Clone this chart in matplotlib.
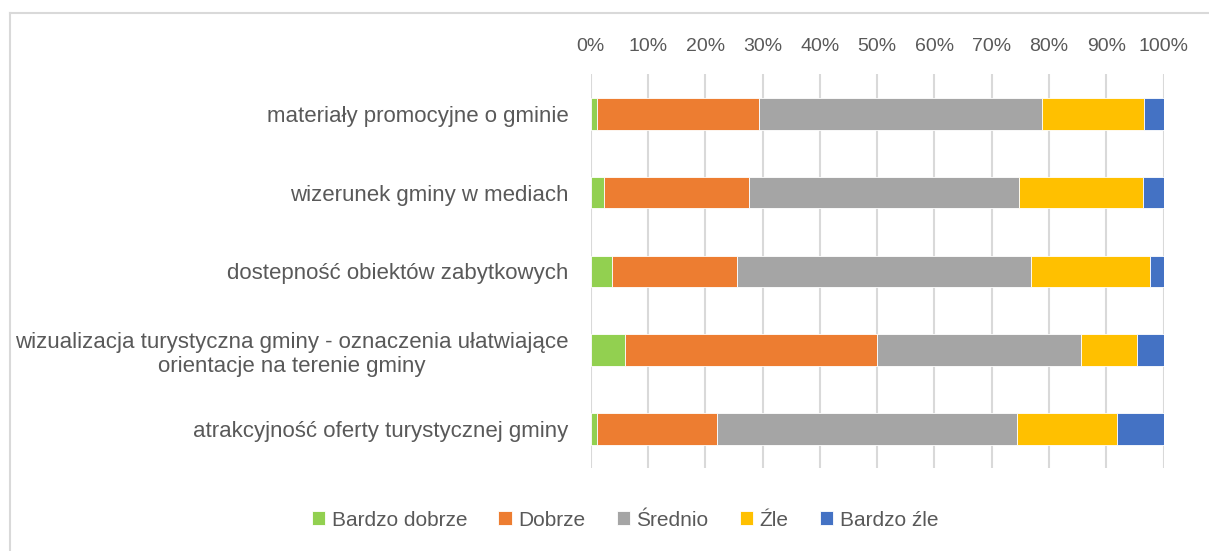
import matplotlib
matplotlib.use("Agg")
import matplotlib.pyplot as plt
from matplotlib.lines import Line2D
from matplotlib.ticker import FuncFormatter

plt.rcParams['font.family'] = ['Liberation Sans', 'DejaVu Sans']

# categories from top to bottom
categories = [
    "materiały promocyjne o gminie",
    "wizerunek gminy w mediach",
    "dostepność obiektów zabytkowych",
    "wizualizacja turystyczna gminy - oznaczenia ułatwiające\norientacje na terenie gminy",
    "atrakcyjność oferty turystycznej gminy",
]
series_names = ["Bardzo dobrze", "Dobrze", "Średnio", "Źle", "Bardzo źle"]
bardzo_dobrze = [1.1, 2.3, 3.7, 5.9, 1.1]
dobrze = [28.3, 25.4, 21.8, 44.1, 20.9]
srednio = [49.4, 47.0, 51.3, 35.6, 52.4]
zle = [17.7, 21.7, 20.8, 9.7, 17.4]
bardzo_zle = [3.5, 3.6, 2.4, 4.7, 8.2]
colors = ["#92D050", "#ED7D31", "#A5A5A5", "#FFC000", "#4472C4"]

series = [bardzo_dobrze, dobrze, srednio, zle, bardzo_zle]

fig = plt.figure(figsize=(12.09, 5.51), dpi=100)
ax = fig.add_axes([0.4886, 0.150, 0.4739, 0.715])

ypos = list(range(len(categories)))
left = [0.0] * len(categories)
tot = [sum(col) for col in zip(*series)]
for name, vals, c in zip(series_names, series, colors):
    pct = [v / t * 100 for v, t in zip(vals, tot)]
    ax.barh(ypos, pct, left=left, height=0.4, color=c, label=name,
            edgecolor="white", linewidth=0.6, zorder=3)
    left = [l + p for l, p in zip(left, pct)]

ax.set_xlim(0, 100)
ax.set_ylim(len(categories) - 0.5, -0.5)
ax.set_xticks(range(0, 101, 10))
ax.xaxis.set_major_formatter(FuncFormatter(lambda v, p: f"{int(v)}%"))
ax.xaxis.tick_top()
ax.set_yticks(ypos)
ax.set_yticklabels(categories, multialignment="center")
ax.tick_params(axis="x", length=0, pad=14, labelsize=14, labelcolor="#595959")
ax.tick_params(axis="y", length=0, pad=16, labelsize=16, labelcolor="#595959")
ax.grid(axis="x", color="#D9D9D9", linewidth=1.5, zorder=0)
for s in ax.spines.values():
    s.set_visible(False)

fig.legend(loc="center", bbox_to_anchor=(625 / 1209, 1 - 520 / 551), ncol=5,
           frameon=False, fontsize=15, labelcolor="#595959",
           handlelength=0.65, handleheight=0.65, handletextpad=0.3,
           columnspacing=1.5)

# outer chart frame (only top and left edges visible)
fig.add_artist(Line2D([10 / 1209, 10 / 1209], [0, 1 - 13 / 551],
                      color="#D9D9D9", linewidth=1.5, transform=fig.transFigure))
fig.add_artist(Line2D([10 / 1209, 1], [1 - 13 / 551, 1 - 13 / 551],
                      color="#D9D9D9", linewidth=1.5, transform=fig.transFigure))

fig.savefig("out.png", dpi=100, facecolor="white")
